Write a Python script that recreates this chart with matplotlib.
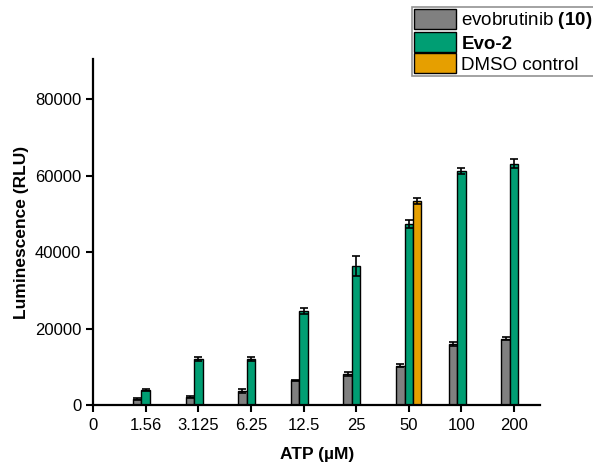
import numpy as np
import matplotlib
matplotlib.use('Agg')
import matplotlib.pyplot as plt

plt.rcParams['font.family'] = ['Liberation Sans', 'DejaVu Sans']
plt.rcParams['mathtext.fontset'] = 'custom'
plt.rcParams['mathtext.rm'] = 'Liberation Sans'
plt.rcParams['mathtext.bf'] = 'Liberation Sans:bold'

fontsize = 12
atp = ['0', '1.56', '3.125', '6.25', '12.5', '25', '50', '100', '200']
evo_cats = ['1.56', '3.125', '6.25', '12.5', '25', '50', '100', '200']
evobrutinib = [1650, 2200, 3700, 6500, 8100, 10300, 15900, 17400]
evobrutinib_err = [200, 200, 400, 200, 500, 400, 500, 300]
evo2 = [3900, 12000, 12000, 24600, 36400, 47400, 61200, 63200]
evo2_err = [200, 500, 500, 700, 2700, 1000, 850, 1200]
dmso_cats = ['50']
dmso = [53400]
dmso_err = [700]

x_pos = {c: i for i, c in enumerate(atp)}
w = 0.16

fig, ax = plt.subplots(figsize=(5.93, 4.62), dpi=100)
plt.subplots_adjust(left=0.157, right=0.911, bottom=0.123, top=0.872)

err_kw = dict(ecolor='black', elinewidth=1.2, capsize=3, capthick=1.2)
xe = np.array([x_pos[c] for c in evo_cats])
xd = np.array([x_pos[c] for c in dmso_cats])
b1 = ax.bar(xe - w, evobrutinib, w, yerr=evobrutinib_err, color='#808080',
            edgecolor='black', linewidth=1, error_kw=err_kw)
b2 = ax.bar(xe, evo2, w, yerr=evo2_err, color='#009E73',
            edgecolor='black', linewidth=1, error_kw=err_kw)
b3 = ax.bar(xd + w, dmso, w, yerr=dmso_err, color='#E69F00',
            edgecolor='black', linewidth=1, error_kw=err_kw)

ax.set_xlim(0, 8.5)
ax.set_ylim(0, 90500)
ax.set_xticks(range(len(atp)))
ax.set_xticklabels(atp)
ax.set_yticks([0, 20000, 40000, 60000, 80000])
ax.tick_params(labelsize=fontsize, direction='out', length=5, width=1.5, colors='black')
ax.tick_params(axis='x', pad=4)
for s in ['top', 'right']:
    ax.spines[s].set_visible(False)
for s in ['left', 'bottom']:
    ax.spines[s].set_linewidth(1.6)

ax.set_xlabel('ATP (µM)', fontsize=12.5, fontweight='bold', labelpad=10)
ax.set_ylabel('Luminescence (RLU)', fontsize=12.5, fontweight='bold', labelpad=4)

leg = fig.legend([b1, b2, b3], ['evobrutinib $\\mathbf{(10)}$', 'Evo-2', 'DMSO control'],
                 loc='upper left', bbox_to_anchor=(0.695, 0.985), fontsize=13.5,
                 handlelength=2.2, handleheight=1.25, labelspacing=0.05, handletextpad=0.3,
                 borderpad=0.12, borderaxespad=0, fancybox=False, shadow=False)
leg.get_frame().set_edgecolor('#777777')
leg.get_frame().set_linewidth(1.2)
leg.get_texts()[1].set_fontweight('bold')

plt.savefig('out.png', dpi=100)
